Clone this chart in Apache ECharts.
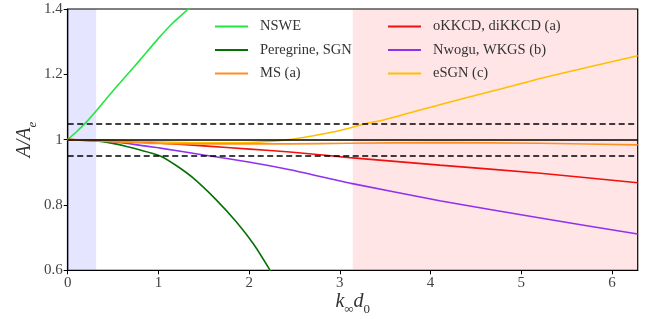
<!DOCTYPE html>
<html>
<head>
<meta charset="utf-8">
<script src="https://cdn.jsdelivr.net/npm/echarts@6/dist/echarts.min.js"></script>
<style>
  html, body { margin: 0; padding: 0; background: #fff; }
  #chart { width: 656px; height: 319px; }
</style>
</head>
<body>
<div id="chart"></div>
<script>
const TWO_PI = 2 * Math.PI;

// values
const nsweX = [0, 0.1, 0.2, 0.32, 0.5, 0.65, 0.8, 1.0, 1.15, 1.33, 1.45];
const nsweY = [1, 1.025, 1.052, 1.09, 1.15, 1.197, 1.245, 1.31, 1.355, 1.40, 1.43];

const peregrineX = [0, 0.39, 0.65, 1.02, 1.2, 1.385, 1.64, 1.86, 2.05, 2.22, 2.3];
const peregrineY = [1, 0.994, 0.979, 0.950, 0.920, 0.882, 0.815, 0.748, 0.680, 0.605, 0.565];

const msX = [0, 0.5, 1.0, 1.5, 2.0, 2.45, 3.1, 4.1, 5.2, TWO_PI];
const msY = [1, 0.994, 0.988, 0.987, 0.987, 0.987, 0.989, 0.991, 0.989, 0.984];

const kkcdX = [0, 0.5, 1.02, 1.5, 2.01, 2.45, 3.11, 4.1, 5.21, TWO_PI];
const kkcdY = [1, 0.997, 0.989, 0.981, 0.971, 0.962, 0.945, 0.922, 0.897, 0.868];

const nwoguX = [0, 0.5, 1.02, 1.5, 2.01, 2.45, 3.11, 4.1, 5.21, TWO_PI];
const nwoguY = [1, 0.994, 0.974, 0.953, 0.931, 0.908, 0.867, 0.813, 0.760, 0.711];

const esgnX = [0, 0.5, 1.0, 1.5, 2.01, 2.45, 2.75, 3.0, 3.3, 3.48, 4.1, 4.77, 5.32, TWO_PI];
const esgnY = [1, 0.997, 0.993, 0.990, 0.991, 1.0, 1.014, 1.028, 1.05, 1.06, 1.107, 1.155, 1.195, 1.257];

const xTicks = [0, 1, 2, 3, 4, 5, 6];
const yTicks = [0.6, 0.8, 1, 1.2, 1.4];
const refLines = [1.05, 0.95];
const blueBand = [0, 0.314];
const pinkBand = [Math.PI, TWO_PI];

const zip = (xs, ys) => xs.map((x, i) => [x, ys[i]]);

const font = 'Liberation Serif';
const chart = echarts.init(document.getElementById('chart'));

const lineSeries = (name, xs, ys, color, z) => ({
  name,
  type: 'line',
  data: zip(xs, ys),
  symbol: 'none',
  smooth: 0.2,
  clip: true,
  z,
  lineStyle: { color, width: 1.6 },
  itemStyle: { color }
});

const legendBase = {
  orient: 'vertical', top: 14,
  icon: 'rect', itemWidth: 33, itemHeight: 2, itemGap: 8.5,
  textStyle: { fontFamily: font, fontSize: 14.5, color: '#333', padding: [0, 0, 0, 7] }
};

const option = {
  animation: false,
  grid: {
    left: 67.7, right: 18.3, top: 9, bottom: 48.7,
    outerBoundsMode: 'none',
    show: true, borderColor: '#000', borderWidth: 1.2, backgroundColor: 'transparent'
  },
  legend: [
    Object.assign({ data: ['NSWE', 'Peregrine, SGN', 'MS (a)'], left: 210 }, legendBase),
    Object.assign({ data: ['oKKCD, diKKCD (a)', 'Nwogu, WKGS (b)', 'eSGN (c)'], left: 383 }, legendBase)
  ],
  xAxis: {
    type: 'value', min: 0, max: TWO_PI, interval: 1,
    name: '{i|k}{s|∞}{i|d}{s|0}',
    nameLocation: 'middle', nameGap: 20, nameMoveOverlap: false,
    nameTextStyle: {
      rich: {
        i: { fontFamily: font, fontStyle: 'italic', fontSize: 20, color: '#333', verticalAlign: 'top', height: 22, lineHeight: 22 },
        s: { fontFamily: font, fontSize: 13, color: '#333', verticalAlign: 'bottom', height: 22, lineHeight: 30 }
      }
    },
    axisLine: { lineStyle: { color: '#000', width: 1.2 } },
    axisTick: { show: true, inside: false, length: 4, lineStyle: { color: '#000' } },
    axisLabel: {
      fontFamily: font, fontSize: 15, color: '#444', margin: 5,
      showMaxLabel: false,
      formatter: (v) => (xTicks.includes(Math.round(v)) ? String(Math.round(v)) : '')
    },
    splitLine: { show: false }
  },
  yAxis: {
    type: 'value', min: 0.6, max: 1.4, interval: 0.2,
    name: '{i|A/A}{s|e}',
    nameLocation: 'middle', nameGap: 24, nameRotate: 90, nameMoveOverlap: false,
    nameTextStyle: {
      rich: {
        i: { fontFamily: font, fontStyle: 'italic', fontSize: 20, color: '#333', verticalAlign: 'top', height: 22, lineHeight: 22 },
        s: { fontFamily: font, fontStyle: 'italic', fontSize: 13, color: '#333', verticalAlign: 'bottom', height: 22, lineHeight: 30 }
      }
    },
    axisLine: { show: true, lineStyle: { color: '#000', width: 1.2 } },
    axisTick: { show: true, inside: false, length: 4, lineStyle: { color: '#000' } },
    axisLabel: {
      fontFamily: font, fontSize: 15, color: '#444', margin: 5,
      formatter: (v) => {
        const t = yTicks.find((y) => Math.abs(y - v) < 1e-6);
        return t === undefined ? '' : String(t);
      }
    },
    splitLine: { show: false }
  },
  series: [
    {
      type: 'line', data: [], silent: true, z: 1,
      markArea: {
        silent: true,
        data: [
          [{ xAxis: blueBand[0], itemStyle: { color: 'rgba(0,0,255,0.1)' } }, { xAxis: blueBand[1] }],
          [{ xAxis: pinkBand[0], itemStyle: { color: 'rgba(255,0,0,0.1)' } }, { xAxis: pinkBand[1] }]
        ]
      },
      markLine: {
        silent: true, symbol: 'none', label: { show: false },
        data: [
          { yAxis: refLines[0], lineStyle: { color: '#000', type: [6, 3.5], width: 1.5 } },
          { yAxis: refLines[1], lineStyle: { color: '#000', type: [6, 3.5], width: 1.5 } },
          { yAxis: 1, lineStyle: { color: '#000', type: 'solid', width: 1.5 } }
        ]
      }
    },
    lineSeries('NSWE', nsweX, nsweY, '#22e644', 3),
    lineSeries('Peregrine, SGN', peregrineX, peregrineY, '#067006', 3),
    lineSeries('oKKCD, diKKCD (a)', kkcdX, kkcdY, '#f01010', 3),
    lineSeries('Nwogu, WKGS (b)', nwoguX, nwoguY, '#9030f0', 3),
    lineSeries('eSGN (c)', esgnX, esgnY, '#ffbf00', 3),
    lineSeries('MS (a)', msX, msY, '#ff9020', 4)
  ]
};

chart.setOption(option);
</script>
</body>
</html>
